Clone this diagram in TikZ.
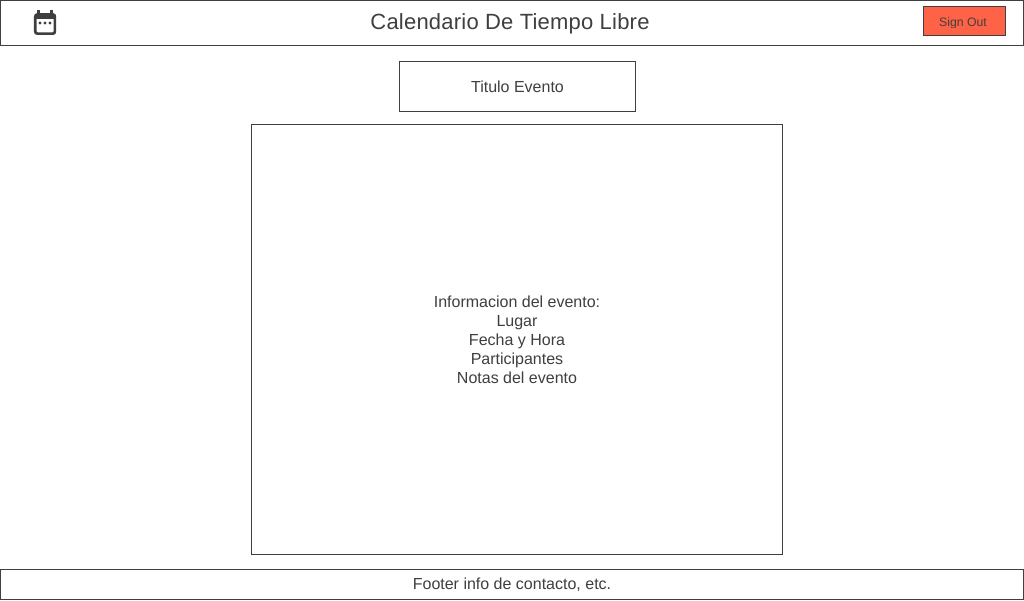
\documentclass[tikz,border=0pt]{standalone}
\usepackage{fontspec}
\setmainfont{Liberation Sans}
\newfontfamily\titlefont[LetterSpace=1]{Liberation Sans}
\definecolor{inkgrey}{HTML}{3F3F3F}
\definecolor{signred}{HTML}{FF6347}
\tikzset{
box/.style={draw=inkgrey, line width=0.75pt, fill=white, inner sep=0pt, outer sep=0pt, text=inkgrey, font=\fontsize{12}{14.25}\selectfont, align=center},
icondot/.style={fill=inkgrey, circle, inner sep=0pt, minimum size=2.4pt},
}

\begin{document}
\begin{tikzpicture}[x=0.75pt, y=-0.75pt]
    \useasboundingbox (0,0) rectangle (1024,600);
    % header
    \node[box, minimum width=768pt-0.75pt, minimum height=33.75pt] (header) at (512,22.5) {};
    \node[text=inkgrey, font=\titlefont\fontsize{16.5}{20}\selectfont] (title) at (510,23.5) {Calendario De Tiempo Libre};
    \node[box, fill=signred, minimum width=61.5pt, minimum height=21.75pt] (signout) at (964.5,21) {};
    \begin{scope}
        \clip (930,10) rectangle (1000,27);
        \node[text=inkgrey, font=\fontsize{9.2}{12}\selectfont] (signtext) at (963,23.5) {Sign Out};
    \end{scope}
    % calendar icon
    \draw[inkgrey, line width=2pt, rounded corners=1.5pt] (35.3,14.5) rectangle (54.9,33.6);
    \fill[inkgrey] (35.3,13.5) rectangle (54.9,19.3);
    \fill[inkgrey] (37.2,10.3) rectangle (40,14);
    \fill[inkgrey] (50,10.3) rectangle (52.8,14);
    \node[icondot] (dota) at (40,23) {};
    \node[icondot] (dotb) at (45,23) {};
    \node[icondot] (dotc) at (50,23) {};
    % body
    \node[box, minimum width=177pt, minimum height=37.5pt] (eventtitle) at (517.5,86.5) {Titulo Evento};
    \node[box, minimum width=398.25pt, minimum height=322.5pt] (eventinfo) at (517,339.5) {Informacion del evento:\\Lugar\\Fecha y Hora\\Participantes\\Notas del evento};
    % footer
    \node[box, minimum width=768pt-0.75pt, minimum height=22.5pt] (footer) at (512,584.5) {};
    \node[text=inkgrey, font=\fontsize{12}{14.25}\selectfont] (footertext) at (512,584.5) {Footer info de contacto, etc.};
\end{tikzpicture}
\end{document}
